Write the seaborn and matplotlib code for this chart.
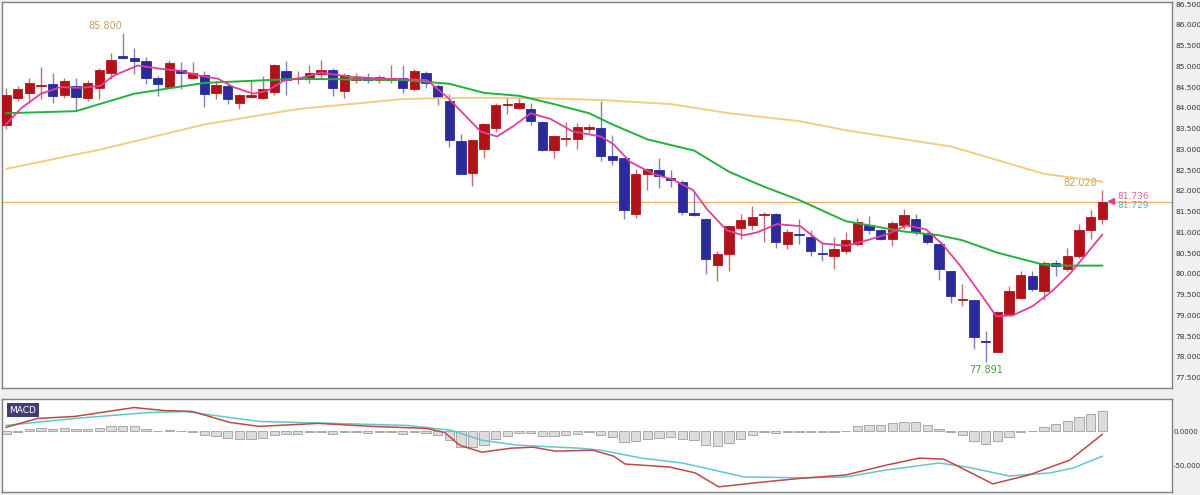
import numpy as np
import pandas as pd
import matplotlib
matplotlib.use("Agg")
import matplotlib.pyplot as plt
import seaborn as sns

# candles (open, high, low, close)
opens = [83.58, 84.24, 84.36, 84.53, 84.58, 84.31, 84.53, 84.24, 84.48, 84.85,
         85.24, 85.19, 85.14, 84.72, 84.50, 84.92, 84.72, 84.80, 84.36, 84.53,
         84.11, 84.26, 84.24, 84.38, 84.89, 84.70, 84.70, 84.82, 84.92, 84.41,
         84.68, 84.70, 84.68, 84.68, 84.72, 84.46, 84.85, 84.53, 84.16, 83.19,
         82.44, 83.02, 83.51, 84.06, 83.99, 83.97, 83.65, 82.99, 83.24, 83.24,
         83.48, 83.51, 82.83, 82.78, 81.44, 82.41, 82.51, 82.31, 82.22, 81.46,
         81.32, 80.22, 80.49, 81.10, 81.17, 81.42, 81.44, 80.73, 80.95, 80.90,
         80.49, 80.44, 80.54, 80.71, 81.19, 81.05, 80.83, 81.17, 81.32, 80.98,
         80.71, 80.07, 79.37, 79.37, 78.38, 78.11, 79.03, 79.42, 79.95, 79.59,
         80.27, 80.12, 80.44, 81.05, 81.32]
highs = [84.48, 84.53, 84.72, 84.99, 84.85, 84.72, 84.72, 84.67, 84.97, 85.31,
         85.80, 85.43, 85.23, 84.77, 85.16, 85.11, 85.11, 84.89, 84.65, 84.58,
         84.33, 84.65, 84.77, 85.06, 85.14, 84.89, 85.04, 85.16, 84.97, 84.85,
         84.85, 84.85, 84.80, 85.02, 85.04, 84.94, 84.89, 84.58, 84.33, 83.36,
         83.22, 83.63, 84.11, 84.24, 84.24, 84.11, 83.68, 83.34, 83.65, 83.63,
         83.60, 84.16, 83.34, 82.80, 82.53, 82.56, 82.80, 82.51, 82.27, 81.97,
         81.34, 80.56, 81.17, 81.44, 81.63, 81.49, 81.46, 81.07, 81.32, 81.05,
         80.76, 80.88, 81.02, 81.34, 81.39, 81.07, 81.27, 81.56, 81.44, 81.00,
         80.71, 80.07, 79.76, 79.37, 78.62, 79.11, 79.71, 80.08, 80.08, 80.32,
         80.34, 80.63, 81.20, 81.54, 82.03]
lows = [83.48, 84.16, 84.12, 84.21, 84.12, 84.24, 83.92, 84.16, 84.21, 84.70,
        85.17, 84.82, 84.58, 84.29, 84.48, 84.46, 84.70, 84.02, 84.21, 84.09,
        83.97, 84.24, 84.21, 84.31, 84.31, 84.58, 84.60, 84.72, 84.29, 84.24,
        84.60, 84.60, 84.60, 84.60, 84.36, 84.41, 84.48, 84.07, 83.05, 82.40,
        82.12, 82.78, 83.43, 83.85, 83.97, 83.58, 82.97, 82.78, 83.07, 83.02,
        83.39, 82.73, 82.63, 81.32, 81.34, 82.02, 82.07, 82.09, 81.41, 81.39,
        80.00, 79.83, 80.07, 80.85, 81.05, 80.76, 80.63, 80.61, 80.71, 80.44,
        80.30, 80.12, 80.47, 80.68, 80.95, 80.81, 80.68, 81.07, 80.93, 80.71,
        79.86, 79.30, 79.22, 78.20, 77.89, 78.11, 79.01, 79.39, 79.59, 79.37,
        79.95, 80.07, 80.39, 80.83, 81.20]
closes = [84.31, 84.46, 84.60, 84.55, 84.29, 84.65, 84.26, 84.60, 84.92, 85.16,
          85.19, 85.14, 84.72, 84.58, 85.09, 84.85, 84.85, 84.33, 84.55, 84.21,
          84.31, 84.31, 84.46, 85.04, 84.68, 84.72, 84.85, 84.92, 84.48, 84.80,
          84.72, 84.68, 84.75, 84.72, 84.48, 84.89, 84.60, 84.24, 83.22, 82.41,
          83.22, 83.60, 84.07, 84.09, 84.11, 83.68, 82.99, 83.31, 83.26, 83.53,
          83.53, 82.85, 82.75, 81.54, 82.41, 82.53, 82.36, 82.27, 81.49, 81.41,
          80.37, 80.49, 81.15, 81.29, 81.37, 81.44, 80.78, 81.02, 80.93, 80.54,
          80.47, 80.59, 80.81, 81.24, 81.05, 80.83, 81.22, 81.42, 81.00, 80.76,
          80.12, 79.47, 79.40, 78.47, 78.35, 79.08, 79.59, 79.98, 79.64, 80.27,
          80.20, 80.44, 81.05, 81.37, 81.74]

# moving averages read at sampled bar positions
ma_fast_x = [0, 1.3, 3, 4.7, 6.4, 8.1, 9.2, 11.3, 13.3, 15, 16.7, 18.2, 19.5, 21.2,
             22.4, 23.8, 25.3, 27, 29.5, 32.4, 36.1, 37.9, 40.7, 42.1, 43.5, 45,
             46.7, 48.6, 51, 52.1, 53.5, 55.5, 57.2, 58.9, 60.1, 61.8, 63.2, 64.4,
             66.1, 68.1, 70, 72.1, 73.8, 75.5, 77.2, 78.9, 80.3, 81.8, 83.5, 84.9,
             86.3, 88, 89.7, 91.2, 92.6, 94]
ma_fast_y = [83.60, 83.99, 84.34, 84.50, 84.48, 84.53, 84.77, 85.02, 84.94, 84.89,
             84.77, 84.70, 84.50, 84.34, 84.41, 84.65, 84.72, 84.85, 84.75, 84.70,
             84.67, 84.24, 83.43, 83.31, 83.56, 83.87, 83.73, 83.43, 83.31, 83.12,
             82.70, 82.41, 82.27, 82.02, 81.56, 81.05, 80.93, 81.00, 81.20, 81.15,
             80.73, 80.68, 80.81, 80.95, 81.17, 81.07, 80.71, 80.20, 79.54, 78.98,
             79.00, 79.22, 79.59, 80.00, 80.47, 80.95]
ma_mid_x = [0, 6, 11, 17, 25, 34, 38, 41, 44, 47, 50, 52, 55, 59, 62, 65, 68, 72,
            77, 80, 82, 85, 89, 91, 94]
ma_mid_y = [83.87, 83.92, 84.34, 84.60, 84.70, 84.67, 84.58, 84.36, 84.29, 84.09,
            83.87, 83.60, 83.24, 82.97, 82.46, 82.10, 81.78, 81.27, 81.02, 80.93,
            80.81, 80.51, 80.22, 80.20, 80.20]
ma_slow_x = [0, 8, 17, 25, 34, 38, 45, 51, 57, 62, 68, 72, 81, 89, 94]
ma_slow_y = [82.53, 82.99, 83.60, 83.97, 84.21, 84.24, 84.24, 84.19, 84.09, 83.87,
             83.68, 83.46, 83.07, 82.41, 82.22]

# MACD panel
macd_x = [0, 2.7, 5.9, 11.0, 13.5, 16.0, 19.2, 21.7, 26.8, 31.3, 36.0, 37.6, 38.9,
          40.8, 43.3, 45.2, 47.1, 50.3, 52.1, 53.1, 56.9, 59.1, 61.1, 65.0, 68.5,
          72.0, 75.5, 78.3, 80.4, 82.1, 84.6, 87.7, 91.2, 94]
macd_y = [5.9, 19.1, 22.1, 35.3, 30.9, 29.4, 13.2, 7.4, 11.8, 7.4, 4.4, -1.5, -20.6,
          -30.9, -25.0, -23.5, -29.4, -27.9, -36.8, -48.5, -52.9, -61.7, -82.3, -75.0,
          -69.1, -64.7, -50.0, -39.7, -41.2, -55.9, -77.9, -64.7, -42.6, -4.4]
signal_x = [0, 5.9, 12.2, 15.4, 21.7, 28.1, 34.4, 38.2, 40.8, 43.9, 49.2, 51.0, 54.5,
            58.0, 63.3, 68.5, 72.0, 75.5, 80.0, 82.4, 86.0, 89.5, 91.5, 94]
signal_y = [8.8, 19.1, 27.9, 29.4, 14.7, 11.8, 8.8, 1.5, -13.2, -20.6, -25.0, -27.9,
            -39.7, -47.0, -67.6, -69.1, -67.6, -57.3, -47.0, -52.9, -66.2, -61.7,
            -54.4, -36.8]
hist = [-3.9, -0.5, 3.9, 5.4, 3.9, 5.4, 2.9, 2.9, 5.4, 7.4, 7.8, 7.8, 3.9, 0.5, 1.5,
        0.5, -0.5, -5.9, -6.9, -9.8, -10.8, -10.8, -9.8, -4.9, -4.4, -3.4, -1.5, -0.7,
        -3.4, -1.5, -1.5, -2.0, -1.5, -1.5, -3.9, -1.5, -2.9, -5.9, -13.2, -23.0,
        -23.0, -19.6, -11.8, -6.9, -2.9, -2.2, -6.9, -6.9,
        -5.9, -3.9, -1.5, -5.9, -8.3, -15.7, -14.7, -10.8, -9.8, -8.3, -11.8, -13.2,
        -19.6, -21.6, -16.7, -10.8, -5.9, -1.5, -2.0, -0.5, -0.5, -0.5, -0.5, -0.5,
        0.5, 7.4, 8.8, 8.8, 11.8, 14.2, 13.2, 9.8, 3.9, -1.0, -5.9, -14.7, -18.6,
        -14.7, -8.8, -1.0, 0.5, 6.4, 10.3, 14.7, 21.1, 26.0, 29.9]

last_price = 81.73
price_ticks = [77.5, 78.0, 78.5, 79.0, 79.5, 80.0, 80.5, 81.0, 81.5, 82.0, 82.5,
               83.0, 83.5, 84.0, 84.5, 85.0, 85.5, 86.0, 86.5]

UP = "#b0141a"
DOWN = "#2b2b9c"

sns.set_theme(style="white")
plt.rcParams["font.family"] = ["DejaVu Sans"]

fig = plt.figure(figsize=(12, 4.95), dpi=100, facecolor="#f0f0f0")
ax = fig.add_axes([0.002, 0.216, 0.975, 0.78])
axm = fig.add_axes([0.002, 0.006, 0.975, 0.188])

df = pd.DataFrame({"o": opens, "h": highs, "l": lows, "c": closes})
df["i"] = np.arange(len(df))
df["up"] = df["c"] >= df["o"]
df["bot"] = df[["o", "c"]].min(axis=1)
df["ht"] = (df["c"] - df["o"]).abs().clip(lower=0.03)

for up, g in df.groupby("up"):
    col = UP if up else DOWN
    wick = "#c07070" if up else "#8080c0"
    ax.vlines(g["i"], g["l"], g["h"], color=wick, lw=1, zorder=2)
    ax.bar(g["i"], g["ht"], bottom=g["bot"], width=0.8, color=col,
           edgecolor=col, lw=0.6, zorder=3)

sns.lineplot(x=ma_slow_x, y=ma_slow_y, ax=ax, color="#f3cc80", lw=1.4, zorder=4)
sns.lineplot(x=ma_mid_x, y=ma_mid_y, ax=ax, color="#22b040", lw=1.4, zorder=4)
sns.lineplot(x=ma_fast_x, y=ma_fast_y, ax=ax, color="#e0409a", lw=1.3, zorder=5)
ax.axhline(last_price, color="#e8b060", lw=0.9, zorder=1)

ax.text(10, 85.84, "85.800", color="#c8a060", fontsize=7, ha="right", va="bottom")
ax.text(84, 77.80, "77.891", color="#40a040", fontsize=7, ha="center", va="top")
ax.text(93.6, 82.07, "82.028", color="#c8a060", fontsize=7, ha="right", va="bottom")
ax.plot([94.75], [last_price + 0.03], marker="<", color="#e0409a", ms=5,
        clip_on=False)
ax.text(95.3, 81.86, "81.736", color="#e0609a", fontsize=6.5, va="center")
ax.text(95.3, 81.64, "81.729", color="#40b8d0", fontsize=6.5, va="center")

ax.set_xlim(-0.3, 100)
ax.set_ylim(77.25, 86.55)
ax.set_yticks(price_ticks)
ax.set_yticklabels([f"{t:.3f}" for t in price_ticks])

# MACD
hx = np.arange(len(hist))
axm.bar(hx, hist, width=0.8, color="#dcdcdc", edgecolor="#a8a8a8", lw=0.7)
sns.lineplot(x=signal_x, y=signal_y, ax=axm, color="#60c8cc", lw=1.1)
sns.lineplot(x=macd_x, y=macd_y, ax=axm, color="#c04848", lw=1.1)
axm.set_xlim(-0.3, 100)
axm.set_ylim(-90, 48)
axm.set_yticks([0, -50])
axm.set_yticklabels(["0.0000", "-50.000"])
axm.text(0.006, 0.88, "MACD", transform=axm.transAxes, fontsize=6.5, color="white",
         va="center", bbox=dict(boxstyle="square,pad=0.25", fc="#404070", ec="none"))

for a in (ax, axm):
    a.set_facecolor("white")
    a.set_xticks([])
    a.yaxis.tick_right()
    a.tick_params(axis="y", labelsize=5.4, colors="#333333", length=0, pad=2)
    for s in a.spines.values():
        s.set_color("#808080")
        s.set_linewidth(1)
axm.tick_params(axis="y", labelsize=5.0, pad=1)

fig.savefig("out.png", dpi=100, facecolor=fig.get_facecolor())
